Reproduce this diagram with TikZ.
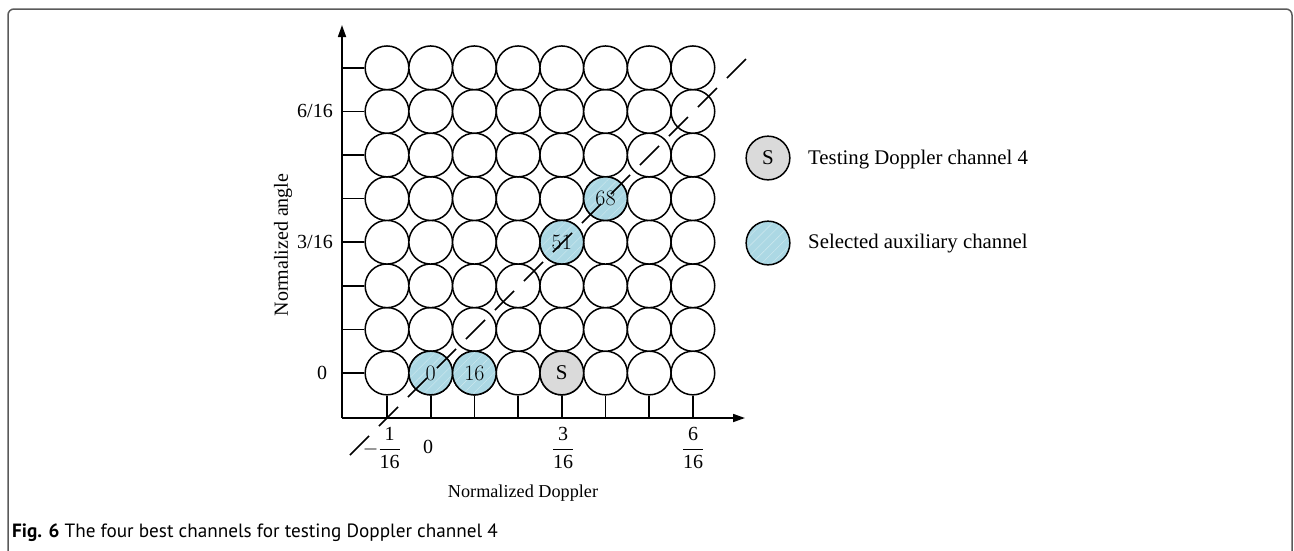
\RequirePackage{fix-cm}
\documentclass[tikz,border=0pt]{standalone}
\usepackage{fontspec}
\newfontfamily\tms{Liberation Serif}
\newfontfamily\capf{PT Sans}
\usetikzlibrary{arrows.meta,patterns.meta}
\definecolor{selblue}{RGB}{172,216,228}
\definecolor{sgray}{RGB}{218,218,218}
\definecolor{framegray}{RGB}{90,90,90}
\tikzset{
  chan/.style={circle,draw,line width=1.5pt,minimum size=43.7pt,inner sep=0pt,fill=white,
    text=black,font=\fontsize{22}{24}\selectfont},
  selch/.style={chan,fill=selblue,
    path picture={\fill[pattern={Lines[angle=45,distance=7pt,line width=0.4pt]},pattern color=white!45!selblue]
      (path picture bounding box.south west) rectangle (path picture bounding box.north east);}},
  testch/.style={chan,fill=sgray,font=\tms\fontsize{21}{24}\selectfont},
  axisline/.style={line width=1.7pt},
  lbl/.style={font=\tms\fontsize{20}{24}\selectfont,inner sep=0pt},
  leglbl/.style={font=\tms\fontsize{20.8}{24}\selectfont,inner sep=0pt},
  axlbl/.style={font=\tms\fontsize{18.2}{23}\selectfont,inner sep=0pt},
  aylbl/.style={font=\tms\fontsize{20}{23}\selectfont,inner sep=0pt},
  diag/.style={line width=1.6pt,dash pattern=on 27pt off 14pt},
  framebox/.style={draw=framegray,line width=1.5pt,rounded corners=6pt}
}
\begin{document}
\begin{tikzpicture}[x=1pt,y=-1pt]
\useasboundingbox (0,0) rectangle (1294,550);
% frame
\coordinate (f1) at (8,551);
\coordinate (f2) at (8,9);
\coordinate (f3) at (1292,9);
\coordinate (f4) at (1292,551);
\draw[framebox] (f1) -- (f2) -- (f3) -- (f4);
% grid of channels
\foreach \i in {0,...,7}{
  \foreach \j in {0,...,7}{
    \node[chan] (c-\i-\j) at ({387+43.7*\i},{373-43.6*\j}) {};
  }
}
\node[selch] (c-1-0) at ({387+43.7*1},{373}) {0};
\node[selch] (c-2-0) at ({387+43.7*2},{373}) {16};
\node[testch] (c-4-0) at ({387+43.7*4},{373}) {S};
\node[selch] (c-4-3) at ({387+43.7*4},{373-43.6*3}) {51};
\node[selch] (c-5-4) at ({387+43.7*5},{373-43.6*4}) {68};
% axes
\coordinate (O) at (342,418);
\coordinate (Ytip) at (342,25);
\coordinate (Xtip) at (745,418);
\draw[axisline,-{Triangle[length=12pt,width=8pt]}] (O) -- (Ytip);
\draw[axisline,-{Triangle[length=12pt,width=8pt]}] (O) -- (Xtip);
% ticks
\foreach \j in {0,...,7}{
  \coordinate (yt-\j) at (342,{373-43.6*\j});
  \draw[axisline] (yt-\j) -- (c-0-\j.west);
}
\foreach \i in {0,...,7}{
  \coordinate (xt-\i) at ({387+43.7*\i},418);
  \draw[axisline] (xt-\i) -- (c-\i-0.south);
}
% diagonal dashed line
\coordinate (d1) at (350,455);
\coordinate (d2) at (754,51);
\draw[diag] (d1) -- (d2);
% y labels
\node[lbl,anchor=east] (y6) at (333,111) {6/16};
\node[lbl,anchor=east] (y3) at (333,242) {3/16};
\node[lbl] (y0) at (322,373) {0};
% x labels
\node[lbl,anchor=east] (xm1) at (401,448) {$\displaystyle-\frac{\hbox{\tms 1}}{\hbox{\tms 16}}$};
\node[lbl] (x0) at (428,447) {0};
\node[lbl] (x3) at (563,448) {$\displaystyle\frac{\hbox{\tms 3}}{\hbox{\tms 16}}$};
\node[lbl] (x6) at (693,448) {$\displaystyle\frac{\hbox{\tms 6}}{\hbox{\tms 16}}$};
% axis titles
\node[axlbl] (xt) at (523,493) {Normalized Doppler};
\node[aylbl,rotate=90] (ytl) at (283,245) {Normalized angle};
% legend
\node[testch] (legS) at (768,158) {S};
\node[leglbl,anchor=west] (legSt) at (808,160) {Testing Doppler channel 4};
\node[selch] (legA) at (768,243) {};
\node[leglbl,anchor=west] (legAt) at (808,244) {Selected auxiliary channel};
% caption
\node[anchor=base west,inner sep=0pt,font=\capf\fontsize{19.2}{22}\selectfont] (cap) at (12,537)
  {\textbf{Fig. 6} The four best channels for testing Doppler channel 4};
\end{tikzpicture}
\end{document}
